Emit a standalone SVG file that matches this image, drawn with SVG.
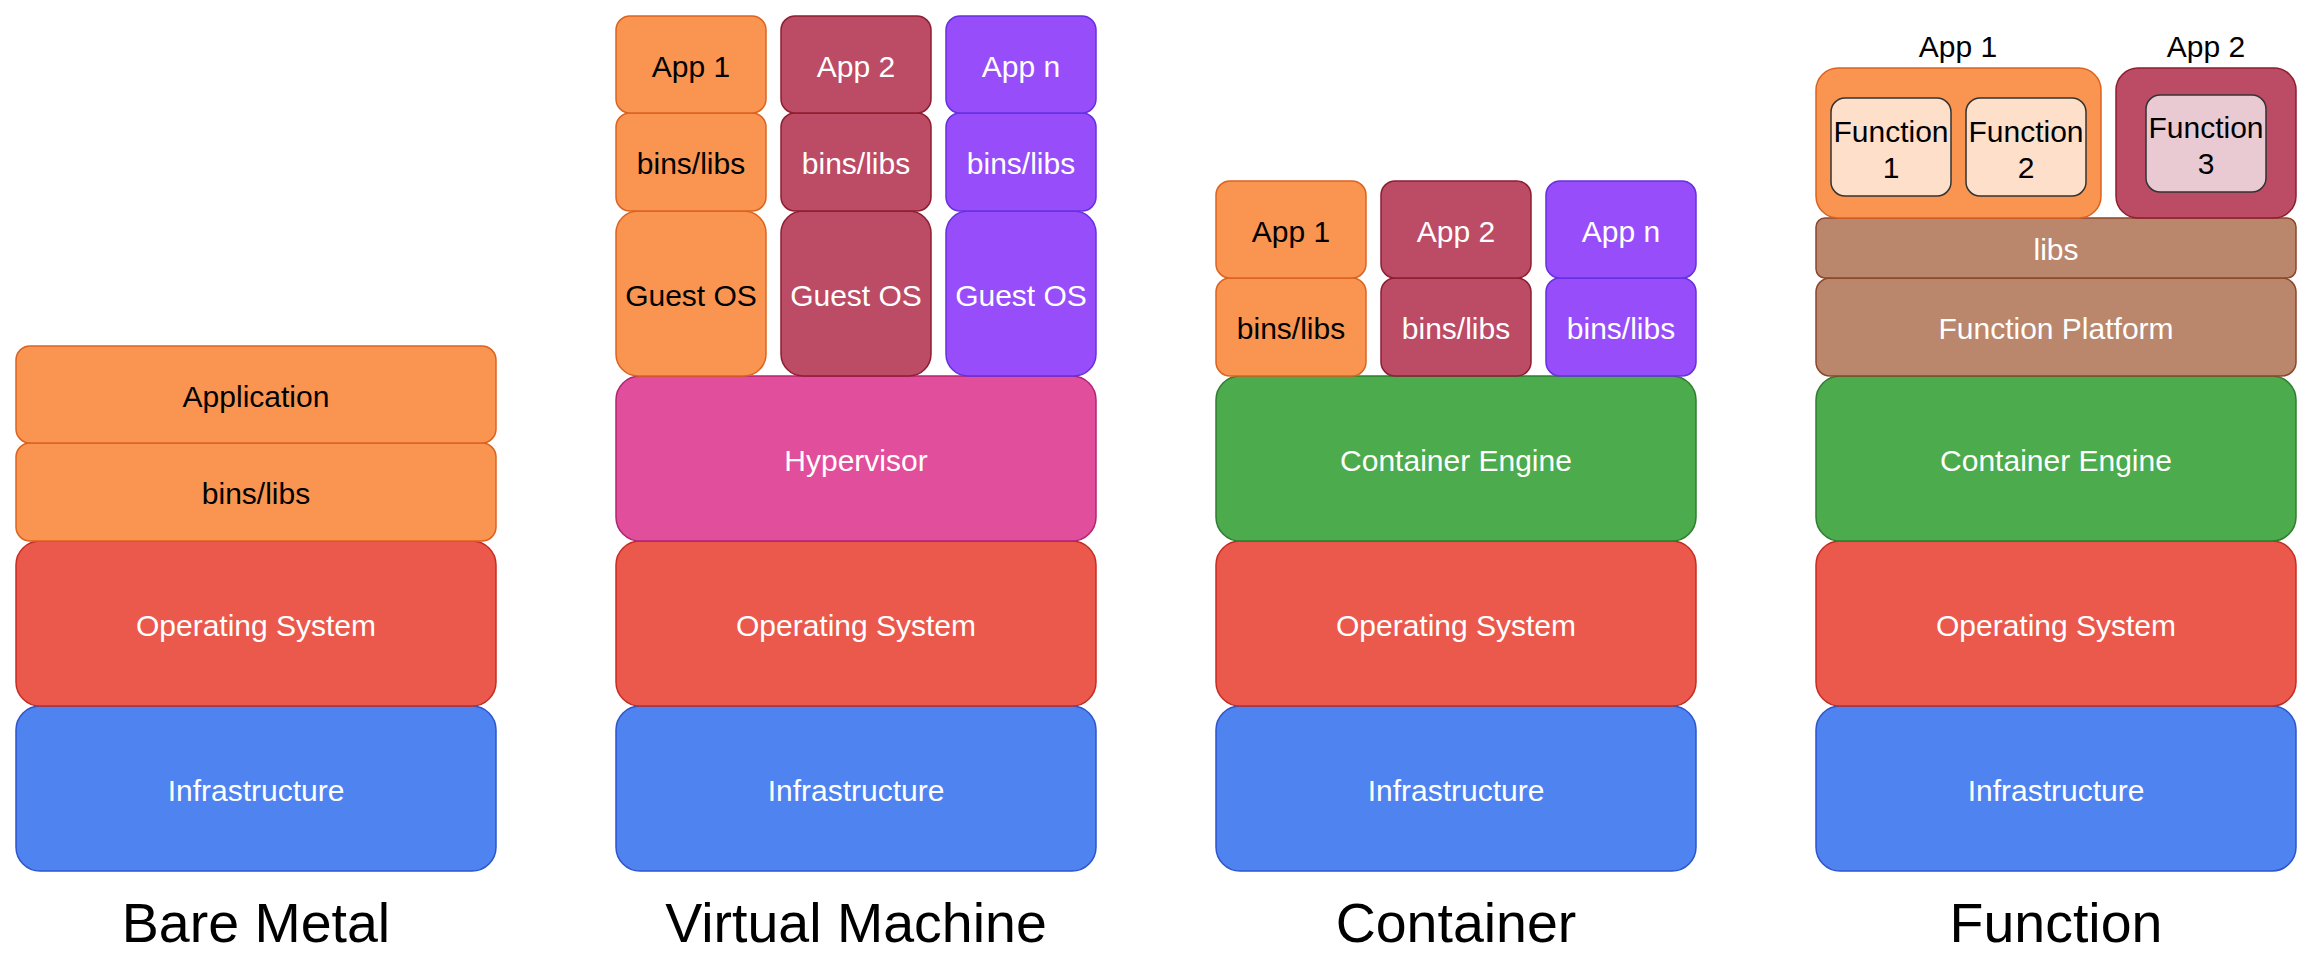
<svg xmlns="http://www.w3.org/2000/svg" width="2312" height="977" viewBox="0 0 2312 977">
<style>
rect{stroke-width:1.5}
.or{fill:#F99550;stroke:#DB6320}
.os{fill:#EB594D;stroke:#C62D22}
.inf{fill:#4E83F0;stroke:#2D55CC}
.hyp{fill:#E14E9B;stroke:#B22472}
.cr{fill:#BC4B65;stroke:#8E1E30}
.pu{fill:#984DFB;stroke:#6630DF}
.gr{fill:#4CAB4C;stroke:#2F7D30}
.br{fill:#BA866C;stroke:#8C472B}
.f1{fill:#FDDFCA;stroke:#333333}
.f3{fill:#EACAD2;stroke:#333333}
text{font-family:"Liberation Sans",Arial,sans-serif;font-size:30px;text-anchor:middle}
.w{fill:#FFFFFF}
.b{fill:#000000}
.t{font-size:55.5px;fill:#000000}
</style>
<rect width="2312" height="977" fill="#FFFFFF" stroke="none"/>

<g id="bare-metal">
  <g id="bm-infra"><rect class="inf" x="16" y="706" width="480" height="165" rx="24"/><text class="w" x="256" y="801">Infrastructure</text></g>
  <g id="bm-os"><rect class="os" x="16" y="541" width="480" height="165" rx="24"/><text class="w" x="256" y="636">Operating System</text></g>
  <g id="bm-bins"><rect class="or" x="16" y="443" width="480" height="98" rx="14"/><text class="b" x="256" y="504">bins/libs</text></g>
  <g id="bm-app"><rect class="or" x="16" y="346" width="480" height="97" rx="14"/><text class="b" x="256" y="407">Application</text></g>
  <text class="t" x="256" y="942">Bare Metal</text>
</g>

<g id="virtual-machine">
  <g id="vm-infra"><rect class="inf" x="616" y="706" width="480" height="165" rx="24"/><text class="w" x="856" y="801">Infrastructure</text></g>
  <g id="vm-os"><rect class="os" x="616" y="541" width="480" height="165" rx="24"/><text class="w" x="856" y="636">Operating System</text></g>
  <g id="vm-hyp"><rect class="hyp" x="616" y="376" width="480" height="165" rx="24"/><text class="w" x="856" y="471">Hypervisor</text></g>
  <g id="vm-guest1"><rect class="or" x="616" y="211" width="150" height="165" rx="22"/><text class="b" x="691" y="306">Guest OS</text></g>
  <g id="vm-bins1"><rect class="or" x="616" y="113" width="150" height="98" rx="14"/><text class="b" x="691" y="174">bins/libs</text></g>
  <g id="vm-app1"><rect class="or" x="616" y="16" width="150" height="97" rx="14"/><text class="b" x="691" y="77">App 1</text></g>
  <g id="vm-guest2"><rect class="cr" x="781" y="211" width="150" height="165" rx="22"/><text class="w" x="856" y="306">Guest OS</text></g>
  <g id="vm-bins2"><rect class="cr" x="781" y="113" width="150" height="98" rx="14"/><text class="w" x="856" y="174">bins/libs</text></g>
  <g id="vm-app2"><rect class="cr" x="781" y="16" width="150" height="97" rx="14"/><text class="w" x="856" y="77">App 2</text></g>
  <g id="vm-guestn"><rect class="pu" x="946" y="211" width="150" height="165" rx="22"/><text class="w" x="1021" y="306">Guest OS</text></g>
  <g id="vm-binsn"><rect class="pu" x="946" y="113" width="150" height="98" rx="14"/><text class="w" x="1021" y="174">bins/libs</text></g>
  <g id="vm-appn"><rect class="pu" x="946" y="16" width="150" height="97" rx="14"/><text class="w" x="1021" y="77">App n</text></g>
  <text class="t" x="856" y="942">Virtual Machine</text>
</g>

<g id="container">
  <g id="ct-infra"><rect class="inf" x="1216" y="706" width="480" height="165" rx="24"/><text class="w" x="1456" y="801">Infrastructure</text></g>
  <g id="ct-os"><rect class="os" x="1216" y="541" width="480" height="165" rx="24"/><text class="w" x="1456" y="636">Operating System</text></g>
  <g id="ct-engine"><rect class="gr" x="1216" y="376" width="480" height="165" rx="24"/><text class="w" x="1456" y="471">Container Engine</text></g>
  <g id="ct-bins1"><rect class="or" x="1216" y="278" width="150" height="98" rx="14"/><text class="b" x="1291" y="339">bins/libs</text></g>
  <g id="ct-app1"><rect class="or" x="1216" y="181" width="150" height="97" rx="14"/><text class="b" x="1291" y="242">App 1</text></g>
  <g id="ct-bins2"><rect class="cr" x="1381" y="278" width="150" height="98" rx="14"/><text class="w" x="1456" y="339">bins/libs</text></g>
  <g id="ct-app2"><rect class="cr" x="1381" y="181" width="150" height="97" rx="14"/><text class="w" x="1456" y="242">App 2</text></g>
  <g id="ct-binsn"><rect class="pu" x="1546" y="278" width="150" height="98" rx="14"/><text class="w" x="1621" y="339">bins/libs</text></g>
  <g id="ct-appn"><rect class="pu" x="1546" y="181" width="150" height="97" rx="14"/><text class="w" x="1621" y="242">App n</text></g>
  <text class="t" x="1456" y="942">Container</text>
</g>

<g id="function">
  <g id="fn-infra"><rect class="inf" x="1816" y="706" width="480" height="165" rx="24"/><text class="w" x="2056" y="801">Infrastructure</text></g>
  <g id="fn-os"><rect class="os" x="1816" y="541" width="480" height="165" rx="24"/><text class="w" x="2056" y="636">Operating System</text></g>
  <g id="fn-engine"><rect class="gr" x="1816" y="376" width="480" height="165" rx="24"/><text class="w" x="2056" y="471">Container Engine</text></g>
  <g id="fn-platform"><rect class="br" x="1816" y="278" width="480" height="98" rx="14"/><text class="w" x="2056" y="339">Function Platform</text></g>
  <g id="fn-libs"><rect class="br" x="1816" y="218" width="480" height="60" rx="9"/><text class="w" x="2056" y="260">libs</text></g>
  <g id="fn-app1">
    <rect class="or" x="1816" y="68" width="285" height="150" rx="22"/>
    <text class="b" x="1958" y="57">App 1</text>
  </g>
  <g id="fn-func1"><rect class="f1" x="1831" y="98" width="120" height="98" rx="14"/><text class="b" x="1891" y="142">Function<tspan x="1891" dy="35.5">1</tspan></text></g>
  <g id="fn-func2"><rect class="f1" x="1966" y="98" width="120" height="98" rx="14"/><text class="b" x="2026" y="142">Function<tspan x="2026" dy="35.5">2</tspan></text></g>
  <g id="fn-app2">
    <rect class="cr" x="2116" y="68" width="180" height="150" rx="22"/>
    <text class="b" x="2206" y="57">App 2</text>
  </g>
  <g id="fn-func3"><rect class="f3" x="2146" y="95" width="120" height="97" rx="14"/><text class="b" x="2206" y="138">Function<tspan x="2206" dy="35.5">3</tspan></text></g>
  <text class="t" x="2056" y="942">Function</text>
</g>

<g id="connectors"></g>
</svg>
